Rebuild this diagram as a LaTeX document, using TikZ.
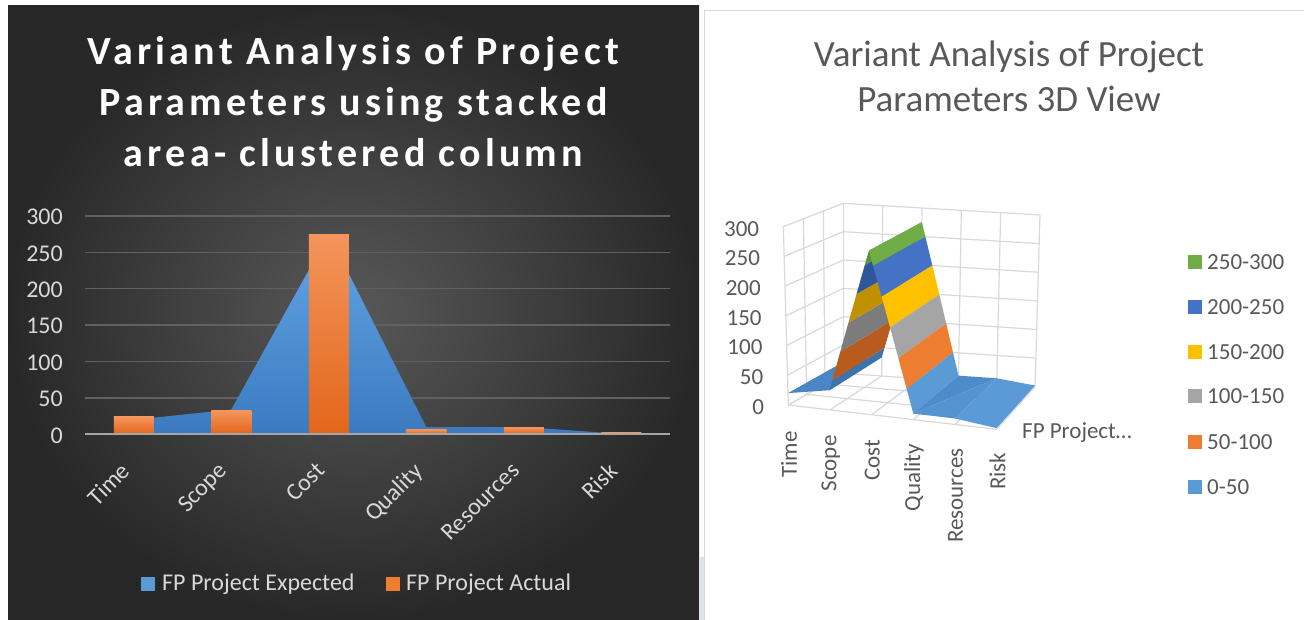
\documentclass[tikz,border=0pt]{standalone}
\usepackage{fontspec}
\setmainfont{Carlito}
\newfontfamily\spacedfont{Carlito}[LetterSpace=10.5]
\usetikzlibrary{calc}
\definecolor{lbgin}{HTML}{585858}
\definecolor{lbgout}{HTML}{282828}
\definecolor{gridc}{HTML}{616161}
\definecolor{axisc}{HTML}{A6A6A6}
\definecolor{tickc}{HTML}{D9D9D9}
\definecolor{areatop}{HTML}{62A6E6}
\definecolor{areabot}{HTML}{3B7ABF}
\definecolor{bartop}{HTML}{F4955C}
\definecolor{barbot}{HTML}{E2661A}
\definecolor{serA}{HTML}{5B9BD5}
\definecolor{serB}{HTML}{ED7D31}
\definecolor{rtext}{HTML}{595959}
\definecolor{rgrid}{HTML}{D9D9D9}
\definecolor{cGreen}{HTML}{70AD47}
\definecolor{cBlue}{HTML}{4472C4}
\definecolor{cYellow}{HTML}{FFC000}
\definecolor{cGray}{HTML}{A5A5A5}
\definecolor{cOrange}{HTML}{ED7D31}
\definecolor{cLight}{HTML}{5B9BD5}
\definecolor{dGreen}{HTML}{5A9038}
\definecolor{dBlue}{HTML}{2F5696}
\definecolor{dYellow}{HTML}{C09000}
\definecolor{dGray}{HTML}{7C7C7C}
\definecolor{dOrange}{HTML}{B85B1F}
\definecolor{dLight}{HTML}{3D72AB}
\definecolor{flatA}{HTML}{4A86C6}
\definecolor{flatB}{HTML}{4E8BCB}
\definecolor{flatC}{HTML}{5592D0}
\definecolor{flatD}{HTML}{5A9AD6}
\definecolor{stripc}{HTML}{DDE4E8}
\definecolor{framec}{HTML}{D9D9D9}

\pgfkeys{/tikz/ch/.cd, i/.store in=\chI, d/.store in=\chD, v/.store in=\chV, i=0, d=0, v=0}
\tikzdeclarecoordinatesystem{ch}{%
  \pgfkeys{/tikz/ch/.cd,#1}%
  \pgfmathsetmacro\chX{(1-(\chD))*(788.33+41.667*(\chI))+(\chD)*(843.33+38.333*(\chI))+(\chV)/300*(-5*(1-(\chD))+(\chI))}%
  \pgfmathsetmacro\chY{(1-(\chD))*(405+4.8667*(\chI))+(\chD)*(373.33+2.6667*(\chI))+(\chV)/300*(-178.33+8.33*(\chD)-0.3333*(\chI))}%
  \pgfpoint{\chX pt}{-\chY pt}%
}
\newcommand\yl[1]{434.3-0.7278*(#1)}

\tikzset{
  ticklbl/.style={text=tickc, font=\fontsize{24}{29}\selectfont, inner sep=0pt},
  rlbl/.style={text=rtext, font=\fontsize{23}{28}\selectfont, inner sep=0pt},
  gridline/.style={draw=gridc, line width=1.3pt},
  rgridline/.style={draw=rgrid, line width=1.2pt},
  ltitle/.style={font=\spacedfont\bfseries\fontsize{40}{48}\selectfont, inner sep=0pt},
  rtitle/.style={text=rtext, font=\fontsize{37}{45}\selectfont, inner sep=0pt},
}

\begin{document}
\begin{tikzpicture}[x=1pt,y=-1pt]
\useasboundingbox (0,0) rectangle (1304,620);
\fill[white] (0,0) rectangle (1304,620);

% ---------------- left panel ----------------
\shade[inner color=lbgin, outer color=lbgout] (8,6) rectangle (699,620);
\fill[stripc] (699,557) rectangle (704,620);

% title
\foreach \t/\yy [count=\k] in {Variant Analysis of Project/65, Parameters using stacked/116, area- clustered column/167}{
  \node[ltitle, anchor=base, text=white] (tl\k) at (353.5,\yy) {\t};
}

% gridlines and y labels
\foreach \v in {50,100,...,300}{
  \draw[gridline] (85,{\yl{\v}}) -- (670,{\yl{\v}});
}
\foreach \v in {0,50,...,300}{
  \node[ticklbl, anchor=east] (ly\v) at (63,{\yl{\v}+1}) {\v};
}

% area (expected)
\shade[top color=areatop, bottom color=areabot]
  (133.75,434.3) -- (133.75,{\yl{20}}) -- (231.25,{\yl{34}}) -- (328.75,{\yl{275}})
  -- (426.25,{\yl{10}}) -- (523.75,{\yl{10}}) -- (621.25,{\yl{0.5}}) -- (621.25,434.3) -- cycle;

% bars (actual)
\foreach \c/\v in {133.75/24, 231.25/33, 328.75/275, 426.25/7, 523.75/10, 621.25/3}{
  \shade[top color=bartop, bottom color=barbot] ({\c-20},434.3) rectangle ({\c+20},{\yl{\v}});
}

% axis
\draw[draw=axisc, line width=2.2pt] (85,434.3) -- (670,434.3);

% category labels
\foreach \c/\t [count=\k] in {133.75/Time, 231.25/Scope, 328.75/Cost, 426.25/Quality, 523.75/Resources, 621.25/Risk}{
  \node[ticklbl, rotate=45, anchor=north east] (lx\k) at ({\c-14},461) {\t};
}

% legend
\fill[serA] (141,577) rectangle (155,591);
\node[ticklbl, anchor=west] (lg1) at (162,584) {FP Project Expected};
\fill[serB] (386,577) rectangle (400,591);
\node[ticklbl, anchor=west] (lg2) at (406,584) {FP Project Actual};

% ---------------- right panel ----------------
\draw[framec, line width=1.8pt] (704.5,620) -- (704.5,10.5) -- (1304,10.5);

\node[rtitle, anchor=base] (rt1) at (1009,67) {Variant Analysis of Project};
\node[rtitle, anchor=base] (rt2) at (1009,112) {Parameters 3D View};

% walls and floor grid
\foreach \v in {0,50,...,300}{
  \draw[rgridline] (ch cs:i=0,d=1,v=\v) -- (ch cs:i=5,d=1,v=\v);
  \draw[rgridline] (ch cs:i=0,d=0,v=\v) -- (ch cs:i=0,d=1,v=\v);
}
\foreach \i in {0,...,5}{
  \draw[rgridline] (ch cs:i=\i,d=1,v=0) -- (ch cs:i=\i,d=1,v=300);
  \draw[rgridline] (ch cs:i=\i,d=0,v=0) -- (ch cs:i=\i,d=1,v=0);
}
\foreach \d in {0,0.3333,0.6667}{
  \draw[rgridline] (ch cs:i=0,d=\d,v=0) -- (ch cs:i=0,d=\d,v=300);
  \draw[rgridline] (ch cs:i=0,d=\d,v=0) -- (ch cs:i=5,d=\d,v=0);
}

% surface: Time-Scope flat
\fill[flatA] (ch cs:i=0,d=0,v=20) -- (ch cs:i=1,d=0,v=33) -- (ch cs:i=1,d=1,v=33) -- (ch cs:i=0,d=1,v=20) -- cycle;
% Scope-Cost face (shaded)
\foreach \lo/\hi/\col in {33/50/dLight, 50/100/dOrange, 100/150/dGray, 150/200/dYellow, 200/250/dBlue, 250/275/dGreen}{
  \fill[\col] (ch cs:i={1+(\lo-33)/242},d=0,v=\lo) -- (ch cs:i={1+(\hi-33)/242},d=0,v=\hi)
    -- (ch cs:i={1+(\hi-33)/242},d=1,v=\hi) -- (ch cs:i={1+(\lo-33)/242},d=1,v=\lo) -- cycle;
}
% Cost-Quality face (bright)
\foreach \lo/\hi/\col in {250/275/cGreen, 200/250/cBlue, 150/200/cYellow, 100/150/cGray, 50/100/cOrange, 10/50/cLight}{
  \fill[\col] (ch cs:i={2+(275-\hi)/265},d=0,v=\hi) -- (ch cs:i={2+(275-\lo)/265},d=0,v=\lo)
    -- (ch cs:i={2+(275-\lo)/265},d=1,v=\lo) -- (ch cs:i={2+(275-\hi)/265},d=1,v=\hi) -- cycle;
}
% Quality-Resources-Risk flat
\fill[flatB] (ch cs:i=3,d=0,v=10) -- (ch cs:i=3,d=1,v=10) -- (ch cs:i=4,d=1,v=10) -- cycle;
\fill[flatC] (ch cs:i=3,d=0,v=10) -- (ch cs:i=4,d=0,v=10) -- (ch cs:i=4,d=1,v=10) -- cycle;
\fill[flatD] (ch cs:i=4,d=0,v=10) -- (ch cs:i=5,d=0,v=2) -- (ch cs:i=5,d=1,v=2) -- (ch cs:i=4,d=1,v=10) -- cycle;

% value labels
\foreach \v in {0,50,...,300}{
  \node[rlbl, anchor=east] (ry\v) at ({788.33-\v/300*5-24},{405-\v/300*178.33+2}) {\v};
}
% category labels
\foreach \t [count=\k from 0] in {Time, Scope, Cost, Quality, Resources, Risk}{
  \node[rlbl, rotate=90, anchor=east] (rx\k) at ({789+41.67*\k},{431+4.3*\k}) {\t};
}
\node[rlbl, anchor=west] (rdepth) at (1022,433) {FP Project…};

% legend
\foreach \lbl/\col/\yy [count=\k] in {250-300/cGreen/262, 200-250/cBlue/307, 150-200/cYellow/352, 100-150/cGray/396, 50-100/cOrange/442, 0-50/cLight/487}{
  \fill[\col] (1188,\yy-7) rectangle (1202,\yy+7);
  \node[rlbl, anchor=west] (rl\k) at (1207,\yy) {\lbl};
}
\end{tikzpicture}
\end{document}
